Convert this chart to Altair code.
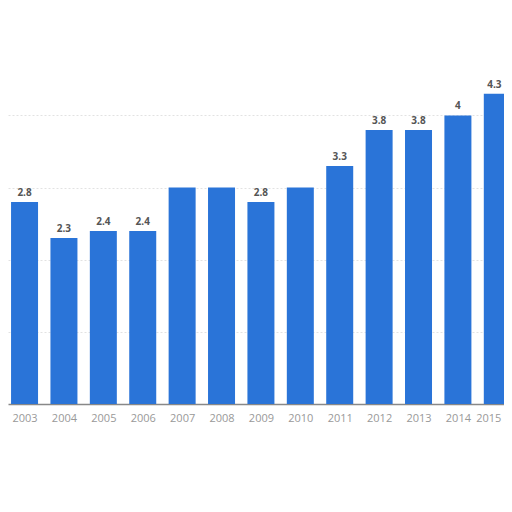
import altair as alt
import pandas as pd

years = [2003, 2004, 2005, 2006, 2007, 2008, 2009, 2010, 2011, 2012, 2013, 2014, 2015]
values = [2.8, 2.3, 2.4, 2.4, 3.0, 3.0, 2.8, 3.0, 3.3, 3.8, 3.8, 4.0, 4.3]
labels = ["2.8", "2.3", "2.4", "2.4", "", "", "2.8", "", "3.3", "3.8", "3.8", "4", "4.3"]

df = pd.DataFrame({"year": years, "value": values, "label": labels})

x = alt.X("year:Q", title=None,
          scale=alt.Scale(domain=[2002.58, 2015.17], nice=False, zero=False, padding=0),
          axis=alt.Axis(values=years, format="d", labelColor="#999999", labelFontSize=11,
                        labelFont="Open Sans", ticks=False, labelPadding=8,
                        labelFlush=False, labelOverlap=False,
                        labelOffset={"condition": {"test": "datum.value == 2015", "value": -9},
                                     "value": 0},
                        domainColor="#888888", domainWidth=1.5, grid=False))
y = alt.Y("value:Q", title=None,
          scale=alt.Scale(domain=[0, 5.49], nice=False, padding=0),
          axis=alt.Axis(values=[1, 2, 3, 4], labels=False, ticks=False, domain=False,
                        grid=True, gridColor="#e2e2e2", gridDash=[2, 2], gridWidth=1))

base = alt.Chart(df)
bars = base.mark_bar(color="#2a74d8", width=27).encode(x=x, y=y)
text = base.transform_filter("datum.year < 2015").mark_text(
    dy=-9, fontSize=10, fontWeight="bold", color="#555555", font="Open Sans").encode(
    x="year:Q", y="value:Q", text="label:N")
text_last = base.transform_filter("datum.year == 2015").mark_text(
    dy=-9, dx=-3, fontSize=10, fontWeight="bold", color="#555555", font="Open Sans").encode(
    x="year:Q", y="value:Q", text="label:N")

chart = (bars + text + text_last).properties(
    width=496, height=396,
    autosize=alt.AutoSizeParams(type="none"),
    padding={"left": 0, "right": 0, "top": 0, "bottom": 60},
).configure_view(stroke=None)

chart.save("out.html", embed_options={"renderer": "svg", "actions": False})
